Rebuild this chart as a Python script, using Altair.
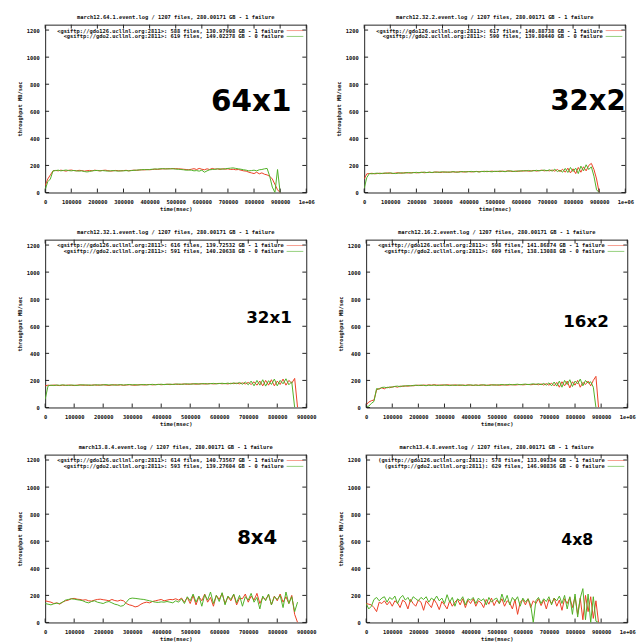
import altair as alt
import pandas as pd

RED = "#ec3d22"
GREEN = "#4fb026"
FONT = "DejaVu Sans Mono"
W, H = 266, 171
YMAX = 1240
STEP = 10000  # sampling interval of the log (msec)

# ---------------- data ----------------
titles = [
    "march12.64.1.event.log / 1207 files, 280.00171 GB - 1 failure",
    "march12.32.2.event.log / 1207 files, 280.00171 GB - 1 failure",
    "march12.32.1.event.log / 1207 files, 280.00171 GB - 1 failure",
    "march12.16.2.event.log / 1207 files, 280.00171 GB - 1 failure",
    "march13.8.4.event.log / 1207 files, 280.00171 GB - 1 failure",
    "march13.4.8.event.log / 1207 files, 280.00171 GB - 1 failure",
]
legend_red = [
    "<gsiftp://gdo126.ucllnl.org:2811>: 588 files, 130.97908 GB - 1 failure",
    "<gsiftp://gdo126.ucllnl.org:2811>: 617 files, 140.88738 GB - 1 failure",
    "<gsiftp://gdo126.ucllnl.org:2811>: 616 files, 139.72532 GB - 1 failure",
    "<gsiftp://gdo126.ucllnl.org:2811>: 598 files, 141.86874 GB - 1 failure",
    "<gsiftp://gdo126.ucllnl.org:2811>: 614 files, 140.73567 GB - 1 failure",
    "(gsiftp://gdo126.ucllnl.org:2811): 578 files, 133.09334 GB - 1 failure",
]
legend_green = [
    "<gsiftp://gdo2.ucllnl.org:2811>: 619 files, 149.02278 GB - 0 failure",
    "<gsiftp://gdo2.ucllnl.org:2811>: 590 files, 139.80440 GB - 0 failure",
    "<gsiftp://gdo2.ucllnl.org:2811>: 591 files, 140.20638 GB - 0 failure",
    "<gsiftp://gdo2.ucllnl.org:2811>: 609 files, 138.13088 GB - 0 failure",
    "<gsiftp://gdo2.ucllnl.org:2811>: 593 files, 139.27604 GB - 0 failure",
    "(gsiftp://gdo2.ucllnl.org:2811): 629 files, 146.90836 GB - 0 failure",
]
labels = ["64x1", "32x2", "32x1", "16x2", "8x4", "4x8"]
xmax = [1000000, 1000000, 900000, 1000000, 900000, 1000000]
yticks = [0, 200, 400, 600, 800, 1000, 1200]

p1_red = [50, 100, 130, 160, 163, 160, 165, 162, 158, 164,
          166, 162, 160, 164, 162, 158, 161, 163, 160, 165,
          162, 160, 163, 165, 162, 158, 160, 163, 161, 160,
          162, 164, 160, 163, 165, 164, 166, 168, 167, 170,
          168, 170, 172, 171, 173, 175, 174, 176, 175, 177,
          176, 175, 174, 172, 170, 168, 172, 176, 170, 178,
          172, 168, 175, 170, 178, 172, 175, 170, 176, 172,
          175, 170, 172, 168, 170, 165, 160, 158, 150, 145,
          140, 150, 138, 145, 135, 130, 120, 100, 60, 20, 0]
p1_green = [20, 80, 100, 160, 162, 165, 160, 163, 166, 162,
            160, 163, 160, 158, 160, 155, 152, 155, 160, 162,
            163, 160, 162, 160, 158, 160, 162, 160, 158, 160,
            160, 162, 160, 162, 164, 165, 167, 168, 170, 168,
            170, 172, 174, 173, 175, 176, 175, 174, 176, 175,
            173, 172, 170, 168, 165, 166, 165, 160, 162, 158,
            165, 150, 160, 168, 170, 172, 174, 175, 172, 176,
            178, 180, 182, 178, 175, 172, 168, 165, 160, 162,
            165, 160, 168, 170, 175, 178, 120, 40, 0, 170, 0]

p2_red = [100, 138, 140, 142, 138, 140, 143, 140, 142, 145,
          143, 140, 144, 146, 142, 145, 147, 144, 146, 148,
          145, 147, 150, 146, 148, 150, 147, 150, 152, 148,
          150, 152, 149, 151, 153, 150, 152, 155, 151, 153,
          155, 152, 154, 156, 153, 155, 157, 154, 156, 158,
          155, 157, 154, 158, 156, 160, 157, 155, 159, 156,
          160, 158, 162, 157, 160, 163, 158, 162, 165, 160,
          163, 160, 166, 158, 170, 155, 172, 150, 180, 145,
          175, 140, 185, 150, 190, 160, 200, 215, 170, 100, 0]
p2_green = [30, 110, 140, 138, 141, 143, 139, 142, 144, 141,
            145, 142, 140, 143, 146, 143, 145, 148, 144, 147,
            149, 146, 148, 151, 147, 150, 148, 152, 149, 151,
            153, 150, 152, 150, 154, 152, 150, 153, 155, 152,
            154, 156, 153, 155, 152, 156, 154, 157, 155, 153,
            157, 155, 159, 156, 154, 158, 160, 157, 155, 160,
            158, 162, 159, 163, 158, 161, 164, 160, 163, 166,
            160, 168, 158, 172, 155, 165, 150, 178, 148, 185,
            155, 180, 140, 195, 160, 205, 170, 190, 120, 20, 0]

p3_red = [160, 165, 163, 166, 164, 162, 165, 163, 166, 164,
          162, 165, 167, 164, 166, 163, 165, 167, 164, 166,
          168, 165, 163, 166, 168, 165, 167, 164, 166, 168,
          166, 164, 167, 169, 166, 168, 170, 167, 169, 171,
          168, 170, 172, 169, 171, 173, 170, 172, 174, 171,
          173, 175, 172, 174, 176, 173, 175, 177, 174, 176,
          178, 175, 177, 174, 179, 176, 180, 175, 182, 174,
          185, 170, 190, 165, 195, 160, 200, 165, 205, 160,
          195, 170, 210, 165, 200, 180, 215, 0]
p3_green = [60, 160, 165, 162, 166, 164, 167, 165, 163, 166,
            165, 163, 166, 168, 165, 167, 164, 166, 168, 165,
            167, 169, 166, 168, 165, 167, 169, 166, 168, 170,
            167, 169, 166, 168, 170, 167, 169, 171, 168, 170,
            172, 169, 171, 173, 170, 172, 174, 171, 173, 175,
            172, 174, 176, 173, 175, 177, 174, 176, 178, 175,
            177, 179, 176, 180, 175, 182, 176, 185, 172, 188,
            168, 195, 160, 200, 165, 205, 158, 198, 170, 210,
            160, 200, 175, 212, 168, 190, 0]

p4_red = [20, 40, 50, 55, 130, 140, 145, 138, 150, 146,
          152, 155, 150, 158, 155, 160, 157, 162, 160, 163,
          165, 162, 166, 164, 167, 165, 168, 166, 164, 167,
          165, 168, 166, 164, 167, 165, 163, 166, 164, 167,
          165, 163, 166, 164, 167, 165, 163, 166, 168, 165,
          167, 164, 166, 168, 165, 167, 169, 166, 168, 170,
          167, 169, 171, 168, 170, 172, 168, 174, 166, 176,
          165, 180, 160, 185, 150, 190, 160, 195, 145, 190,
          165, 200, 150, 185, 170, 195, 160, 200, 230, 0]
p4_green = [0, 10, 30, 45, 140, 135, 148, 150, 145, 152,
            150, 156, 158, 153, 160, 158, 162, 159, 163, 165,
            162, 166, 163, 161, 165, 163, 166, 162, 165, 163,
            167, 164, 162, 166, 163, 165, 167, 164, 162, 165,
            167, 164, 166, 163, 165, 168, 165, 163, 166, 168,
            165, 168, 170, 166, 169, 171, 167, 170, 172, 168,
            171, 173, 169, 172, 175, 170, 176, 168, 178, 165,
            182, 160, 188, 158, 195, 150, 200, 170, 205, 155,
            195, 175, 210, 160, 200, 180, 190, 150, 0]

p5_red = [160, 155, 150, 140, 145, 135, 150, 160, 165, 175,
          178, 172, 170, 165, 168, 160, 158, 165, 170, 172,
          168, 165, 160, 170, 162, 158, 165, 160, 140, 130,
          125, 115, 120, 135, 145, 150, 145, 155, 160, 165,
          170, 160, 165, 170, 168, 175, 165, 180, 150, 185,
          140, 200, 130, 190, 160, 210, 150, 185, 120, 200,
          170, 215, 140, 190, 160, 205, 130, 180, 175, 210,
          150, 195, 165, 215, 140, 185, 170, 205, 130, 195,
          160, 210, 150, 190, 140, 200, 60, 0]
p5_green = [140, 135, 130, 138, 142, 140, 150, 165, 170, 175,
            172, 168, 165, 160, 150, 145, 155, 160, 150, 145,
            140, 150, 155, 145, 135, 130, 120, 125, 150, 175,
            180, 178, 175, 172, 170, 165, 160, 155, 150, 148,
            152, 150, 155, 150, 145, 160, 150, 175, 140, 190,
            160, 210, 150, 195, 120, 205, 165, 225, 140, 200,
            155, 220, 130, 195, 170, 210, 145, 200, 120, 190,
            165, 215, 150, 185, 100, 195, 160, 210, 130, 190,
            170, 200, 110, 225, 140, 190, 80, 150]

p6_red = [140, 135, 130, 110, 80, 150, 140, 160, 130, 155,
          120, 160, 145, 110, 165, 150, 100, 170, 140, 120,
          165, 150, 90, 160, 135, 110, 170, 140, 95, 155,
          130, 100, 160, 120, 150, 170, 130, 175, 110, 165,
          140, 175, 120, 160, 145, 110, 170, 135, 180, 125,
          165, 140, 175, 120, 160, 145, 100, 170, 60, 150,
          170, 130, 175, 110, 160, 140, 175, 125, 165, 100,
          170, 140, 180, 120, 165, 90, 175, 140, 185, 110,
          190, 60, 180, 20, 200, 80, 190, 30, 160, 0]
p6_green = [140, 100, 120, 170, 185, 160, 180, 190, 150, 185,
            170, 195, 140, 180, 200, 165, 185, 150, 190, 175,
            160, 185, 170, 190, 150, 180, 165, 195, 160, 180,
            140, 205, 150, 185, 120, 175, 160, 190, 130, 175,
            165, 185, 140, 180, 160, 175, 130, 185, 150, 170,
            180, 140, 210, 150, 200, 130, 185, 160, 190, 120,
            180, 150, 175, 130, 0, 160, 185, 140, 175, 155,
            190, 130, 180, 160, 195, 140, 200, 100, 190, 60,
            210, 40, 180, 250, 20, 210, 0, 190, 10, 0]

reds = [p1_red, p2_red, p3_red, p4_red, p5_red, p6_red]
greens = [p1_green, p2_green, p3_green, p4_green, p5_green, p6_green]

# big label placement inside each panel (pixels from plot's top-left) and font size
label_pos = [(210, 79, 30), (228, 79, 28), (228, 80, 17), (224, 84, 17), (216, 85, 20), (215, 87, 16)]

one = pd.DataFrame({"k": [0]})


def series_df(vals):
    return pd.DataFrame({"t": [i * STEP for i in range(len(vals))], "v": vals})


def panel(i):
    xm = xmax[i]
    xticks = list(range(0, xm + 1, 100000))
    xsc = alt.Scale(domain=[0, xm], nice=False, zero=False)
    ysc = alt.Scale(domain=[0, YMAX], nice=False, zero=False)
    xax = alt.Axis(values=xticks, title="time(msec)",
                   labelExpr="datum.value >= 1000000 ? '1e+06' : '' + datum.value",
                   labelOverlap=False, labelFlush=False, domain=False, ticks=False,
                   grid=False, labelPadding=7, titlePadding=2)
    yax = alt.Axis(values=yticks, title="throughput MB/sec",
                   format="d", labelOverlap=False, labelFlush=False,
                   domain=False, ticks=False, grid=False, labelPadding=6, titlePadding=4)
    X = lambda f: alt.X(f, scale=xsc, axis=xax)
    Y = lambda f: alt.Y(f, scale=ysc, axis=yax)

    red = alt.Chart(series_df(reds[i])).mark_line(color=RED, strokeWidth=1, clip=True).encode(
        x=X("t:Q"), y=Y("v:Q"))
    green = alt.Chart(series_df(greens[i])).mark_line(color=GREEN, strokeWidth=1, clip=True).encode(
        x=X("t:Q"), y=Y("v:Q"))

    ytk = pd.DataFrame({"v": yticks})
    xtk = pd.DataFrame({"t": xticks})
    ytl = alt.Chart(ytk).mark_rule(color="#222").encode(
        x=alt.value(0), x2=alt.value(4), y=Y("v:Q"))
    ytr = alt.Chart(ytk).mark_rule(color="#222").encode(
        x=alt.value(W - 4), x2=alt.value(W), y=Y("v:Q"))
    xtb = alt.Chart(xtk).mark_rule(color="#222").encode(
        y=alt.value(H), y2=alt.value(H - 4), x=X("t:Q"))
    xtt = alt.Chart(xtk).mark_rule(color="#222").encode(
        y=alt.value(0), y2=alt.value(4), x=X("t:Q"))

    leg_r = alt.Chart(one).mark_text(font=FONT, fontSize=5.5, fontWeight="bold", align="right",
                                     baseline="middle", color="#111").encode(
        x=alt.value(243), y=alt.value(6), text=alt.value(legend_red[i]))
    leg_g = alt.Chart(one).mark_text(font=FONT, fontSize=5.5, fontWeight="bold", align="right",
                                     baseline="middle", color="#111").encode(
        x=alt.value(243), y=alt.value(12), text=alt.value(legend_green[i]))
    sw_r = alt.Chart(one).mark_rule(color=RED, opacity=0.5).encode(
        x=alt.value(246), x2=alt.value(263), y=alt.value(6))
    sw_g = alt.Chart(one).mark_rule(color=GREEN, opacity=0.6).encode(
        x=alt.value(246), x2=alt.value(263), y=alt.value(12))

    lx, ly, ls = label_pos[i]
    big = alt.Chart(one).mark_text(font="DejaVu Sans", fontSize=ls, fontWeight="bold",
                                   align="center", baseline="middle", color="#000").encode(
        x=alt.value(lx), y=alt.value(ly), text=alt.value(labels[i]))

    return alt.layer(red, green, ytl, ytr, xtb, xtt, leg_r, leg_g, sw_r, sw_g, big).properties(
        width=W, height=H,
        title=alt.Title(titles[i], font=FONT, fontSize=5.5, fontWeight="bold", color="#111",
                        anchor="middle", offset=4))


rows = [alt.hconcat(panel(2 * r), panel(2 * r + 1), spacing=21) for r in range(3)]
chart = alt.vconcat(*rows, spacing=16).configure_view(
    stroke="#222", strokeWidth=1
).configure_axis(
    labelFont=FONT, labelFontSize=5.5, labelFontWeight="bold", labelColor="#111",
    titleFont=FONT, titleFontSize=5.5, titleFontWeight="bold", titleColor="#111"
).properties(padding={"left": 17, "top": 8, "right": 5, "bottom": 5}, background="white")

chart.save("out.html", embed_options={"renderer": "svg", "actions": False})
